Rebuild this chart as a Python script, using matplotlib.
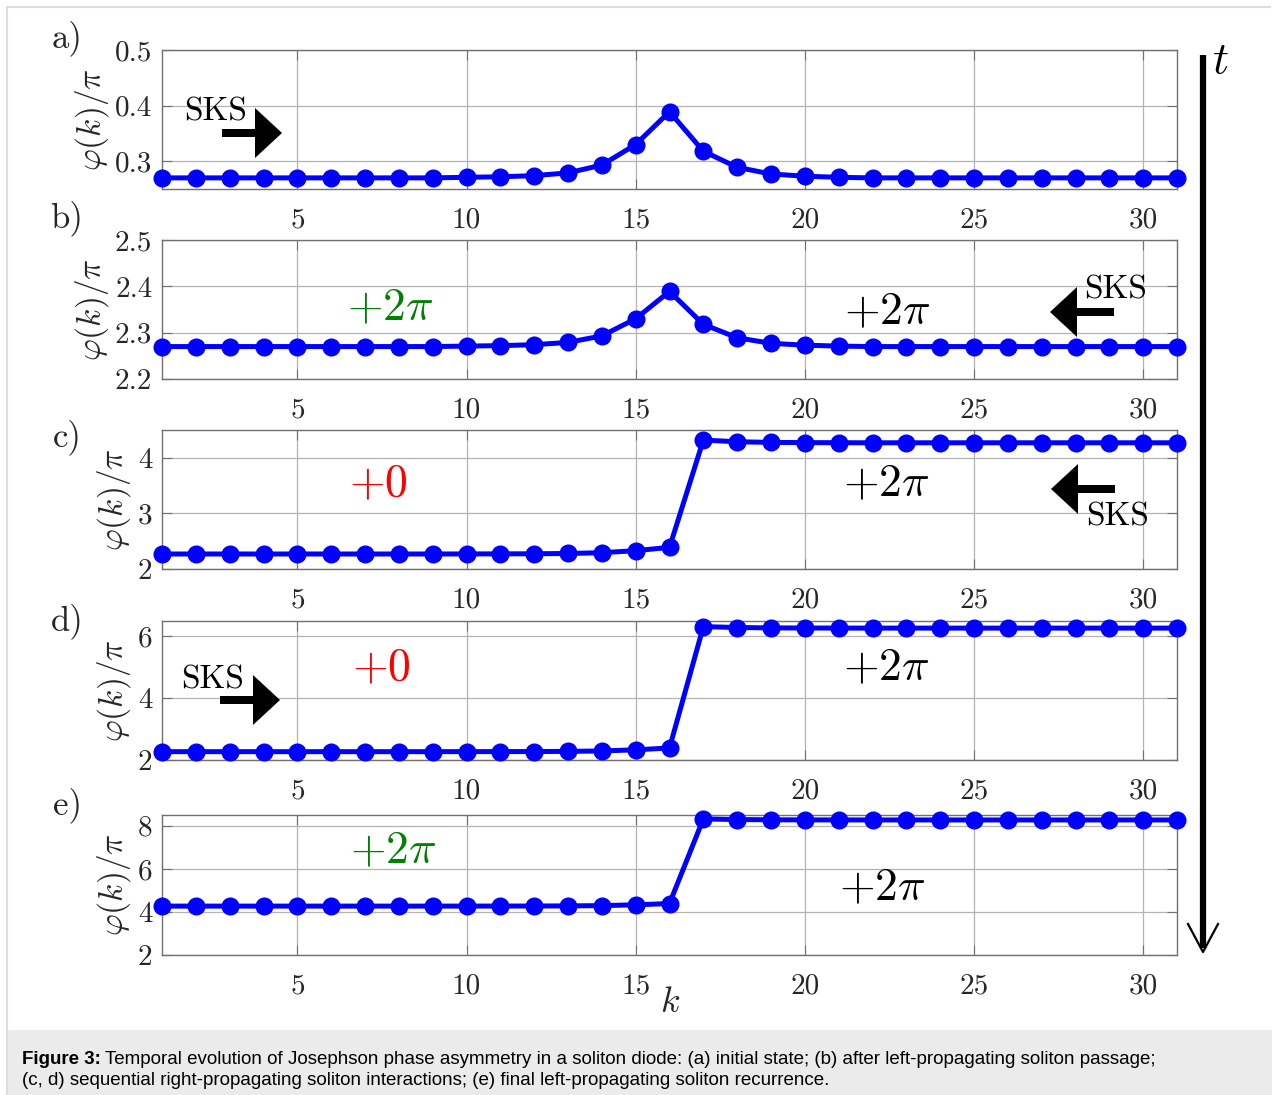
import matplotlib
matplotlib.use("Agg")
from matplotlib import pyplot as plt
from matplotlib.patches import Polygon, Rectangle

plt.rcParams['font.family'] = 'serif'
plt.rcParams['font.serif'] = ['cmr10']
plt.rcParams['mathtext.fontset'] = 'cm'
plt.rcParams['axes.unicode_minus'] = False

# site index along the chain
k = list(range(1, 32))

# phase profiles phi(k)/pi for the five stages
phi_a = [0.270, 0.270, 0.270, 0.270, 0.270, 0.270, 0.270, 0.270, 0.270, 0.271,
         0.272, 0.274, 0.279, 0.293, 0.330, 0.389, 0.318, 0.289, 0.277, 0.273,
         0.271, 0.270, 0.270, 0.270, 0.270, 0.270, 0.270, 0.270, 0.270, 0.270, 0.270]
phi_b = [2.270, 2.270, 2.270, 2.270, 2.270, 2.270, 2.270, 2.270, 2.270, 2.271,
         2.272, 2.274, 2.279, 2.293, 2.330, 2.389, 2.318, 2.289, 2.277, 2.273,
         2.271, 2.270, 2.270, 2.270, 2.270, 2.270, 2.270, 2.270, 2.270, 2.270, 2.270]
phi_c = [2.270, 2.270, 2.270, 2.270, 2.270, 2.270, 2.270, 2.270, 2.270, 2.271,
         2.272, 2.274, 2.279, 2.293, 2.330, 2.389, 4.318, 4.289, 4.277, 4.273,
         4.271, 4.270, 4.270, 4.270, 4.270, 4.270, 4.270, 4.270, 4.270, 4.270, 4.270]
phi_d = [2.270, 2.270, 2.270, 2.270, 2.270, 2.270, 2.270, 2.270, 2.270, 2.271,
         2.272, 2.274, 2.279, 2.293, 2.330, 2.389, 6.318, 6.289, 6.277, 6.273,
         6.271, 6.270, 6.270, 6.270, 6.270, 6.270, 6.270, 6.270, 6.270, 6.270, 6.270]
phi_e = [4.270, 4.270, 4.270, 4.270, 4.270, 4.270, 4.270, 4.270, 4.270, 4.271,
         4.272, 4.274, 4.279, 4.293, 4.330, 4.389, 8.318, 8.289, 8.277, 8.273,
         8.271, 8.270, 8.270, 8.270, 8.270, 8.270, 8.270, 8.270, 8.270, 8.270, 8.270]

panel_names = ["a)", "b)", "c)", "d)", "e)"]
series = [phi_a, phi_b, phi_c, phi_d, phi_e]
ylims = [(0.25, 0.5), (2.2, 2.5), (2, 4.5), (2, 6.5), (2, 8.5)]
yticks = [[0.3, 0.4, 0.5], [2.2, 2.3, 2.4, 2.5], [2, 3, 4], [2, 4, 6], [2, 4, 6, 8]]
ytick_labels = [["0.3", "0.4", "0.5"], ["2.2", "2.3", "2.4", "2.5"],
                ["2", "3", "4"], ["2", "4", "6"], ["2", "4", "6", "8"]]
xticks = [5, 10, 15, 20, 25, 30]
xtick_labels = ["5", "10", "15", "20", "25", "30"]

W, H = 1272, 1095
fig = plt.figure(figsize=(W / 100, H / 100), dpi=100)
fig.patch.set_facecolor('white')

# (top, bottom) of each panel in pixels
rows = [(50, 189), (240, 379), (430, 569), (621, 760), (815, 955)]
left, right = 162, 1177

axes = []
for i, (top, bot) in enumerate(rows):
    ax = fig.add_axes([left / W, 1 - bot / H, (right - left) / W, (bot - top) / H])
    ax.plot(k, series[i], color='#0000ff', lw=3.6, marker='o', ms=12,
            clip_on=False, zorder=5)
    ax.set_xlim(1, 31)
    ax.set_ylim(*ylims[i])
    ax.set_xticks(xticks)
    ax.set_xticklabels(xtick_labels)
    ax.set_yticks(yticks[i])
    ax.set_yticklabels(ytick_labels[i])
    ax.grid(True, color='#b4b4b4', lw=0.9)
    ax.set_axisbelow(True)
    for sp in ax.spines.values():
        sp.set_color('#707070')
        sp.set_linewidth(1.0)
    ax.tick_params(direction='in', length=7, width=0.8, color='#707070',
                   labelsize=21, labelcolor='#262626', top=True, right=True)
    ax.tick_params(axis='x', pad=13)
    ax.tick_params(axis='y', pad=7)
    ax.set_ylabel(r'$\varphi(k)/\pi$', fontsize=24, color='#262626', labelpad=3)
    axes.append(ax)

# overlay in pixel units for the annotations
ov = fig.add_axes([0, 0, 1, 1], zorder=10)
ov.set_xlim(0, W)
ov.set_ylim(H, 0)
ov.axis('off')
ov.patch.set_alpha(0)

# outer frame and caption box
ov.plot([7, 7], [7, 1095], color='#dcdcdc', lw=1.5)
ov.plot([7, 1270], [7, 7], color='#dcdcdc', lw=1.5)
ov.add_patch(Rectangle((7, 1030), W - 7, 65, color='#ebebeb', lw=0))

# panel letters
label_pos = [(67, 38), (67, 218), (67, 437), (67, 621), (67, 805)]
for name, (x, y) in zip(panel_names, label_pos):
    ov.text(x, y, name, fontsize=25, color='#262626', ha='center', va='center')


def block_arrow(x_tail, x_tip, y, head_len=27, head_half=25, tail_half=4):
    s = 1 if x_tip > x_tail else -1
    xb = x_tip - s * head_len
    pts = [(x_tail, y - tail_half), (xb, y - tail_half), (xb, y - head_half),
           (x_tip, y), (xb, y + head_half), (xb, y + tail_half),
           (x_tail, y + tail_half)]
    ov.add_patch(Polygon(pts, closed=True, color='k', lw=0))


block_arrow(222, 282, 133)
block_arrow(1114, 1050, 312)
block_arrow(1115, 1051, 489)
block_arrow(220, 280, 700)
sks = [(216, 112), (1116, 290), (1118, 517), (213, 680)]
for x, y in sks:
    ov.text(x, y, "SKS", fontsize=24, ha='center', va='center')

# phase jump annotations
green = '#008000'
jumps = [(390, 308, r'$+2\pi$', green), (887, 312, r'$+2\pi$', 'k'),
         (378, 484, r'$+0$', 'red'), (886, 484, r'$+2\pi$', 'k'),
         (381, 668, r'$+0$', 'red'), (886, 668, r'$+2\pi$', 'k'),
         (393, 851, r'$+2\pi$', green), (882, 888, r'$+2\pi$', 'k')]
for x, y, s, c in jumps:
    ov.text(x, y, s, fontsize=33, color=c, ha='center', va='center')

# time axis on the right
ov.plot([1203, 1203], [55, 948], color='k', lw=4.5, solid_capstyle='butt')
ov.plot([1188, 1203, 1218], [924, 952, 924], color='k', lw=1.6)
ov.text(1220, 62, r'$t$', fontsize=32, ha='center', va='center')
ov.text(670, 1003, r'$k$', fontsize=26, color='#262626', ha='center', va='center')

# caption
cap_font = 'Liberation Sans'
t1 = ov.text(22, 1064, "Figure 3:", fontsize=13.5, fontweight='bold',
             family=cap_font, va='baseline')
fig.canvas.draw()
bb = t1.get_window_extent()
ov.text(bb.x1 + 4, 1064,
        "Temporal evolution of Josephson phase asymmetry in a soliton diode: "
        "(a) initial state; (b) after left-propagating soliton passage;",
        fontsize=13.5, family=cap_font, va='baseline')
ov.text(22, 1085,
        "(c, d) sequential right-propagating soliton interactions; "
        "(e) final left-propagating soliton recurrence.",
        fontsize=13.5, family=cap_font, va='baseline')

fig.savefig("out.png", dpi=100)
